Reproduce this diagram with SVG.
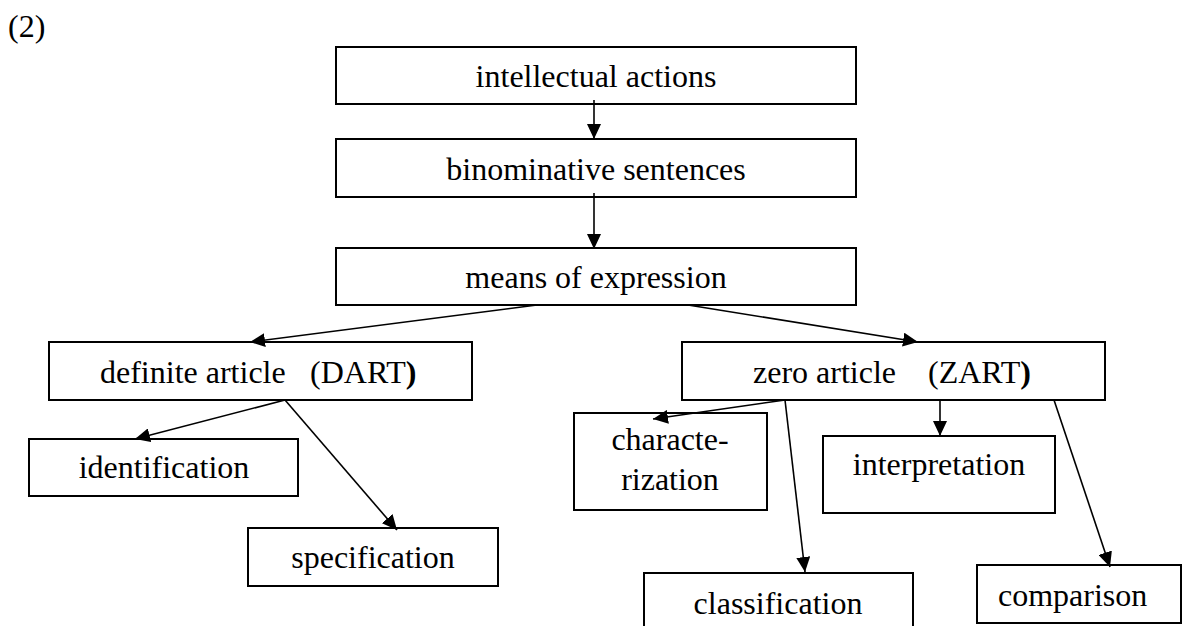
<svg xmlns="http://www.w3.org/2000/svg" width="1186" height="626" viewBox="0 0 1186 626">
<style>
.box{fill:#fff;stroke:#000;stroke-width:2}
.t{font-family:'Liberation Serif','Times New Roman','DejaVu Serif','Noto Serif',serif;font-size:32px;fill:#000}
.c{text-anchor:middle}
.ln{stroke:#000;stroke-width:1.6;fill:none;marker-end:url(#ah)}
</style>
<defs>
<marker id="ah" markerUnits="userSpaceOnUse" markerWidth="15" markerHeight="14" refX="15" refY="7" orient="auto">
<path d="M0,0 L15,7 L0,14 z" fill="#000"/>
</marker>
</defs>
<rect width="1186" height="626" fill="#fff"/>
<text class="t" x="8" y="37" font-family="Liberation Serif, serif">(2)</text>
<g id="intellectual">
<rect class="box" x="336" y="47" width="520" height="57"/>
<text class="t c" x="596" y="87" font-family="Liberation Serif, serif">intellectual actions</text>
</g>
<g id="binominative">
<rect class="box" x="336" y="139" width="520" height="58"/>
<text class="t c" x="596" y="180" font-family="Liberation Serif, serif">binominative sentences</text>
</g>
<g id="means">
<rect class="box" x="336" y="248" width="520" height="57"/>
<text class="t c" x="596" y="288" font-family="Liberation Serif, serif">means of expression</text>
</g>
<g id="dart">
<rect class="box" x="49" y="342" width="423" height="58"/>
<text class="t" y="383" font-family="Liberation Serif, serif"><tspan x="100">definite article</tspan><tspan x="310">(DART</tspan><tspan font-weight="bold">)</tspan></text>
</g>
<g id="zart">
<rect class="box" x="682" y="342" width="423" height="58"/>
<text class="t" y="383" font-family="Liberation Serif, serif"><tspan x="753">zero article</tspan><tspan x="928">(ZART</tspan><tspan font-weight="bold">)</tspan></text>
</g>
<g id="identification">
<rect class="box" x="29" y="439" width="269" height="57"/>
<text class="t c" x="164" y="478" font-family="Liberation Serif, serif">identification</text>
</g>
<g id="specification">
<rect class="box" x="248" y="528" width="250" height="58"/>
<text class="t c" x="373" y="568" font-family="Liberation Serif, serif">specification</text>
</g>
<g id="characterization">
<rect class="box" x="574" y="413" width="193" height="97"/>
<text class="t c" x="670" y="450" font-family="Liberation Serif, serif">characte-</text>
<text class="t c" x="670" y="490" font-family="Liberation Serif, serif">rization</text>
</g>
<g id="interpretation">
<rect class="box" x="823" y="436" width="232" height="77"/>
<text class="t c" x="939" y="475" font-family="Liberation Serif, serif">interpretation</text>
</g>
<g id="classification">
<rect class="box" x="644" y="573" width="269" height="70"/>
<text class="t c" x="778" y="614" font-family="Liberation Serif, serif">classification</text>
</g>
<g id="comparison">
<rect class="box" x="977" y="565" width="204" height="58"/>
<text class="t" x="998" y="606" font-family="Liberation Serif, serif">comparison</text>
</g>
<g id="connectors">
<line class="ln" x1="594" y1="100" x2="594" y2="139"/>
<line class="ln" x1="594" y1="193" x2="594" y2="249"/>
<line class="ln" x1="537" y1="305" x2="250" y2="342"/>
<line class="ln" x1="688" y1="305" x2="918" y2="342"/>
<line class="ln" x1="285" y1="400" x2="135" y2="439"/>
<line class="ln" x1="285" y1="400" x2="397" y2="530"/>
<line class="ln" x1="785" y1="400" x2="653" y2="419"/>
<line class="ln" x1="785" y1="400" x2="805" y2="572"/>
<line class="ln" x1="940" y1="400" x2="940" y2="436"/>
<line class="ln" x1="1054" y1="400" x2="1110" y2="567"/>
</g>
</svg>
